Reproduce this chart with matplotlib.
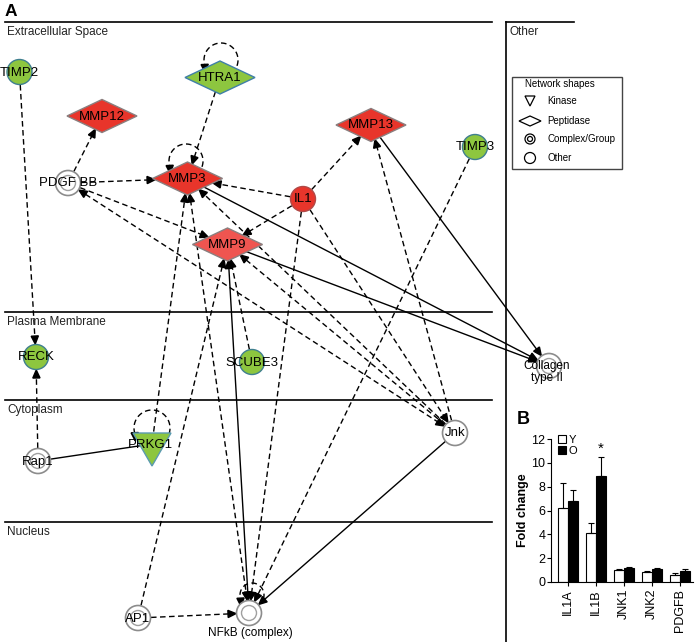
import numpy as np
import matplotlib.pyplot as plt
from matplotlib.patches import Polygon, Circle, Rectangle

plt.rcParams['font.family'] = ['Liberation Sans', 'DejaVu Sans']

# Rede (nós, tipos e regulação)
nodes = ['TIMP2', 'HTRA1', 'MMP12', 'MMP13', 'TIMP3', 'PDGF BB', 'MMP3', 'IL1',
         'MMP9', 'RECK', 'SCUBE3', 'Collagen', 'Rap1', 'PRKG1', 'Jnk', 'AP1', 'NFkB']
kinds = ['other', 'peptidase', 'peptidase', 'peptidase', 'other', 'complex', 'peptidase', 'other',
         'peptidase', 'other', 'other', 'complex', 'complex', 'kinase', 'other', 'complex', 'complex']
regulation = ['down', 'down', 'up', 'up', 'down', 'none', 'up', 'up',
              'up2', 'down', 'down', 'none', 'none', 'down', 'none', 'none', 'none']
labels = {'Collagen': 'Collagen\ntype II', 'NFkB': 'NFkB (complex)'}

# Ligações: origem, destino, estilo, setas
edges = [
    ('TIMP2', 'RECK', '--', '>'),
    ('HTRA1', 'MMP3', '--', '>'),
    ('PDGF BB', 'MMP12', '--', '>'),
    ('PDGF BB', 'MMP3', '--', '>'),
    ('PDGF BB', 'MMP9', '--', '>'),
    ('IL1', 'MMP3', '--', '>'),
    ('IL1', 'MMP13', '--', '>'),
    ('IL1', 'MMP9', '--', '>'),
    ('IL1', 'Jnk', '--', '>'),
    ('IL1', 'NFkB', '--', '>'),
    ('Jnk', 'PDGF BB', '--', '<>'),
    ('Jnk', 'MMP3', '--', '>'),
    ('Jnk', 'MMP9', '--', '>'),
    ('Jnk', 'MMP13', '--', '>'),
    ('Jnk', 'NFkB', '-', '>'),
    ('TIMP3', 'NFkB', '--', '>'),
    ('MMP3', 'Collagen', '-', '>'),
    ('MMP9', 'Collagen', '-', '>'),
    ('MMP13', 'Collagen', '-', '>'),
    ('MMP9', 'NFkB', '-', '<>'),
    ('MMP3', 'NFkB', '--', '<>'),
    ('PRKG1', 'MMP3', '--', '>'),
    ('AP1', 'MMP9', '--', '>'),
    ('AP1', 'NFkB', '--', '>'),
    ('SCUBE3', 'MMP9', '--', '>'),
    ('Rap1', 'RECK', '--', '>'),
    ('Rap1', 'PRKG1', '-', ''),
]
self_loops = ['HTRA1', 'MMP3', 'PRKG1', 'NFkB']

lanes = ['Extracellular Space', 'Plasma Membrane', 'Cytoplasm', 'Nucleus']
legend_shapes = ['Kinase', 'Peptidase', 'Complex/Group', 'Other']

# Gráfico B
genes = ['IL1A', 'IL1B', 'JNK1', 'JNK2', 'PDGFB']
young = [6.2, 4.1, 1.0, 0.85, 0.6]
young_err = [2.1, 0.85, 0.05, 0.1, 0.15]
old = [6.8, 8.9, 1.2, 1.05, 0.9]
old_err = [0.9, 1.6, 0.1, 0.1, 0.2]

# Layout (pixels)
pos = {'TIMP2': (19.5, 72), 'HTRA1': (220, 77.5), 'MMP12': (102, 116), 'MMP13': (371, 125),
       'TIMP3': (475, 147), 'PDGF BB': (68, 183), 'MMP3': (187.5, 178.5), 'IL1': (303, 199),
       'MMP9': (227.5, 244.5), 'RECK': (36, 357), 'SCUBE3': (252, 362), 'Collagen': (549, 366),
       'Rap1': (38, 461), 'PRKG1': (152, 444), 'Jnk': (455, 433), 'AP1': (138, 618),
       'NFkB': (249, 613)}
lane_y = [22, 312, 400, 522]
DW, DH, R = 35, 16.5, 12.5
fills = {'up': '#e8352b', 'up2': '#ef5550', 'down': '#8dc63f', 'none': 'white'}

kind = dict(zip(nodes, kinds))
reg = dict(zip(nodes, regulation))

fig = plt.figure(figsize=(6.95, 6.42), dpi=100)
ax = fig.add_axes([0, 0, 1, 1])
ax.set_xlim(0, 695)
ax.set_ylim(642, 0)
ax.axis('off')


def boundary(n, ux, uy):
    if kind[n] == 'peptidase':
        return 1.0 / (abs(ux) / DW + abs(uy) / DH)
    if kind[n] == 'kinase':
        return 12.5
    return R + 0.5


def head(x, y, ux, uy, L=8, W=3.6):
    bx, by = x - ux * L, y - uy * L
    px, py = -uy, ux
    ax.add_patch(Polygon([(x, y), (bx + px * W, by + py * W), (bx - px * W, by - py * W)],
                         closed=True, color='black', zorder=3))


for s, t, ls, hd in edges:
    x0, y0 = pos[s]
    x1, y1 = pos[t]
    d = np.hypot(x1 - x0, y1 - y0)
    ux, uy = (x1 - x0) / d, (y1 - y0) / d
    a = boundary(s, ux, uy)
    b = boundary(t, -ux, -uy)
    sx, sy = x0 + ux * a, y0 + uy * a
    ex, ey = x1 - ux * b, y1 - uy * b
    lx0, ly0, lx1, ly1 = sx, sy, ex, ey
    if '>' in hd:
        lx1, ly1 = ex - ux * 6, ey - uy * 6
        head(ex, ey, ux, uy)
    if '<' in hd:
        lx0, ly0 = sx + ux * 6, sy + uy * 6
        head(sx, sy, -ux, -uy)
    if ls == '--':
        ax.plot([lx0, lx1], [ly0, ly1], color='black', lw=1.0, dashes=(4, 2.5), zorder=2)
    else:
        ax.plot([lx0, lx1], [ly0, ly1], color='black', lw=1.0, zorder=2)

# auto-laços
loop_geo = {'HTRA1': (221, 60, 17), 'MMP3': (186, 161, 17), 'PRKG1': (152, 428, 18),
            'NFkB': (252, 595, 12)}
for n in self_loops:
    cx, cy, r = loop_geo[n]
    t = np.radians(np.linspace(-20, 195, 60))
    ax.plot(cx + r * np.cos(t), cy - r * np.sin(t), color='black', lw=1.0,
            dashes=(4, 2.5), zorder=2)
    ex, ey = cx + r * np.cos(np.radians(195)), cy - r * np.sin(np.radians(195))
    head(ex + 0.5, ey + 8, 0.05, 1.0)

# nós
for n in nodes:
    x, y = pos[n]
    k = kind[n]
    fc = fills[reg[n]]
    if k == 'peptidase':
        ec = '#8a7f7f' if reg[n] != 'down' else '#3f7fa8'
        ax.add_patch(Polygon([(x - DW, y), (x, y - DH), (x + DW, y), (x, y + DH)],
                             closed=True, fc=fc, ec=ec, lw=1.0, zorder=4))
    elif k == 'kinase':
        ax.add_patch(Polygon([(x - 19, y - 11), (x + 19, y - 11), (x, y + 22)],
                             closed=True, fc=fc, ec='#5a9ab0', lw=1.0, zorder=4))
    elif k == 'complex':
        ax.add_patch(Circle((x, y), R, fc='white', ec='#8c8c8c', lw=1.2, zorder=4))
        ax.add_patch(Circle((x, y), 7.5, fc='none', ec='#a0a0a0', lw=1.0, zorder=4))
    else:
        if reg[n] == 'none':
            ax.add_patch(Circle((x, y), R, fc='white', ec='#8c8c8c', lw=1.2, zorder=4))
        else:
            ec = '#b04a48' if reg[n] == 'up' else '#3f7f8f'
            ax.add_patch(Circle((x, y), R, fc=fc, ec=ec, lw=1.0, zorder=4))
    if n == 'Collagen':
        ax.text(x - 2, y + 6, labels[n], ha='center', va='center', fontsize=8.5,
                linespacing=1.0, zorder=5)
    elif n == 'NFkB':
        ax.text(x + 1, y + 20, labels[n], ha='center', va='center', fontsize=8.5, zorder=5)
    elif n == 'PRKG1':
        ax.text(x - 2, y + 1, n, ha='center', va='center', fontsize=9.5, zorder=5)
    else:
        ax.text(x, y + 0.5, n, ha='center', va='center', fontsize=9.5, zorder=5)

# compartimentos
for name, y in zip(lanes, lane_y):
    ax.plot([5, 492], [y, y], color='black', lw=1.2)
    ax.text(7, y + 10, name, ha='left', va='center', fontsize=8.5, color='#222222')
ax.plot([506, 506], [22, 642], color='black', lw=1.2)
ax.plot([506, 574], [22, 22], color='black', lw=1.2)
ax.text(509, 32, 'Other', ha='left', va='center', fontsize=8.5, color='#222222')
ax.text(5, 12, 'A', ha='left', va='center', fontsize=12.5, fontweight='bold')

# legenda das formas
ax.add_patch(Rectangle((512, 77), 110, 92, fc='white', ec='#444444', lw=1.0))
ax.text(525, 84, 'Network shapes', ha='left', va='center', fontsize=7)
ly = [101, 121, 139, 158]
ax.add_patch(Polygon([(525, 96), (535, 96), (530, 106)], closed=True, fc='none', ec='black', lw=0.9))
ax.add_patch(Polygon([(519, 121), (530, 116), (541, 121), (530, 126)], closed=True, fc='none',
                     ec='black', lw=0.9))
ax.add_patch(Circle((530, 139), 5, fc='none', ec='black', lw=0.9))
ax.add_patch(Circle((530, 139), 2.5, fc='none', ec='black', lw=0.9))
ax.add_patch(Circle((530, 158), 5.5, fc='none', ec='black', lw=0.9))
for name, y in zip(legend_shapes, ly):
    ax.text(547, y, name, ha='left', va='center', fontsize=7)

# Gráfico B
fig.text(517 / 695, 1 - 420 / 642, 'B', ha='left', va='center', fontsize=13, fontweight='bold')
bx = fig.add_axes([551 / 695, 60 / 642, 142 / 695, 143 / 642])
x = np.arange(len(genes))
w = 0.36
bx.bar(x - w / 2, young, w, color='white', edgecolor='black', lw=0.8, label='Y',
       yerr=[np.zeros(len(genes)), young_err], capsize=2,
       error_kw=dict(lw=0.8, capthick=0.8))
bx.bar(x + w / 2, old, w, color='black', edgecolor='black', lw=0.8, label='O',
       yerr=[np.zeros(len(genes)), old_err], capsize=2,
       error_kw=dict(lw=0.8, capthick=0.8))
bx.text(1 + w / 2, old[1] + old_err[1] + 0.1, '*', ha='center', va='bottom', fontsize=11)
bx.set_xlim(-0.61, 4.46)
bx.set_ylim(0, 12)
bx.set_yticks(range(0, 13, 2))
bx.set_xticks(x)
bx.set_xticklabels(genes, rotation=90, fontsize=9)
bx.tick_params(axis='y', labelsize=9, length=3, width=0.8, pad=1)
bx.tick_params(axis='x', length=3, width=0.8, pad=2)
for sp in ['top', 'right']:
    bx.spines[sp].set_visible(False)
for sp in ['left', 'bottom']:
    bx.spines[sp].set_linewidth(0.8)
bx.set_ylabel('Fold change', fontsize=9, fontweight='bold', labelpad=2)
bx.legend(loc='upper left', bbox_to_anchor=(0.02, 1.06), frameon=False, fontsize=8,
          handlelength=0.7, handleheight=0.7, handletextpad=0.2, labelspacing=0.1,
          borderaxespad=0)

fig.savefig('out.png', dpi=100)
